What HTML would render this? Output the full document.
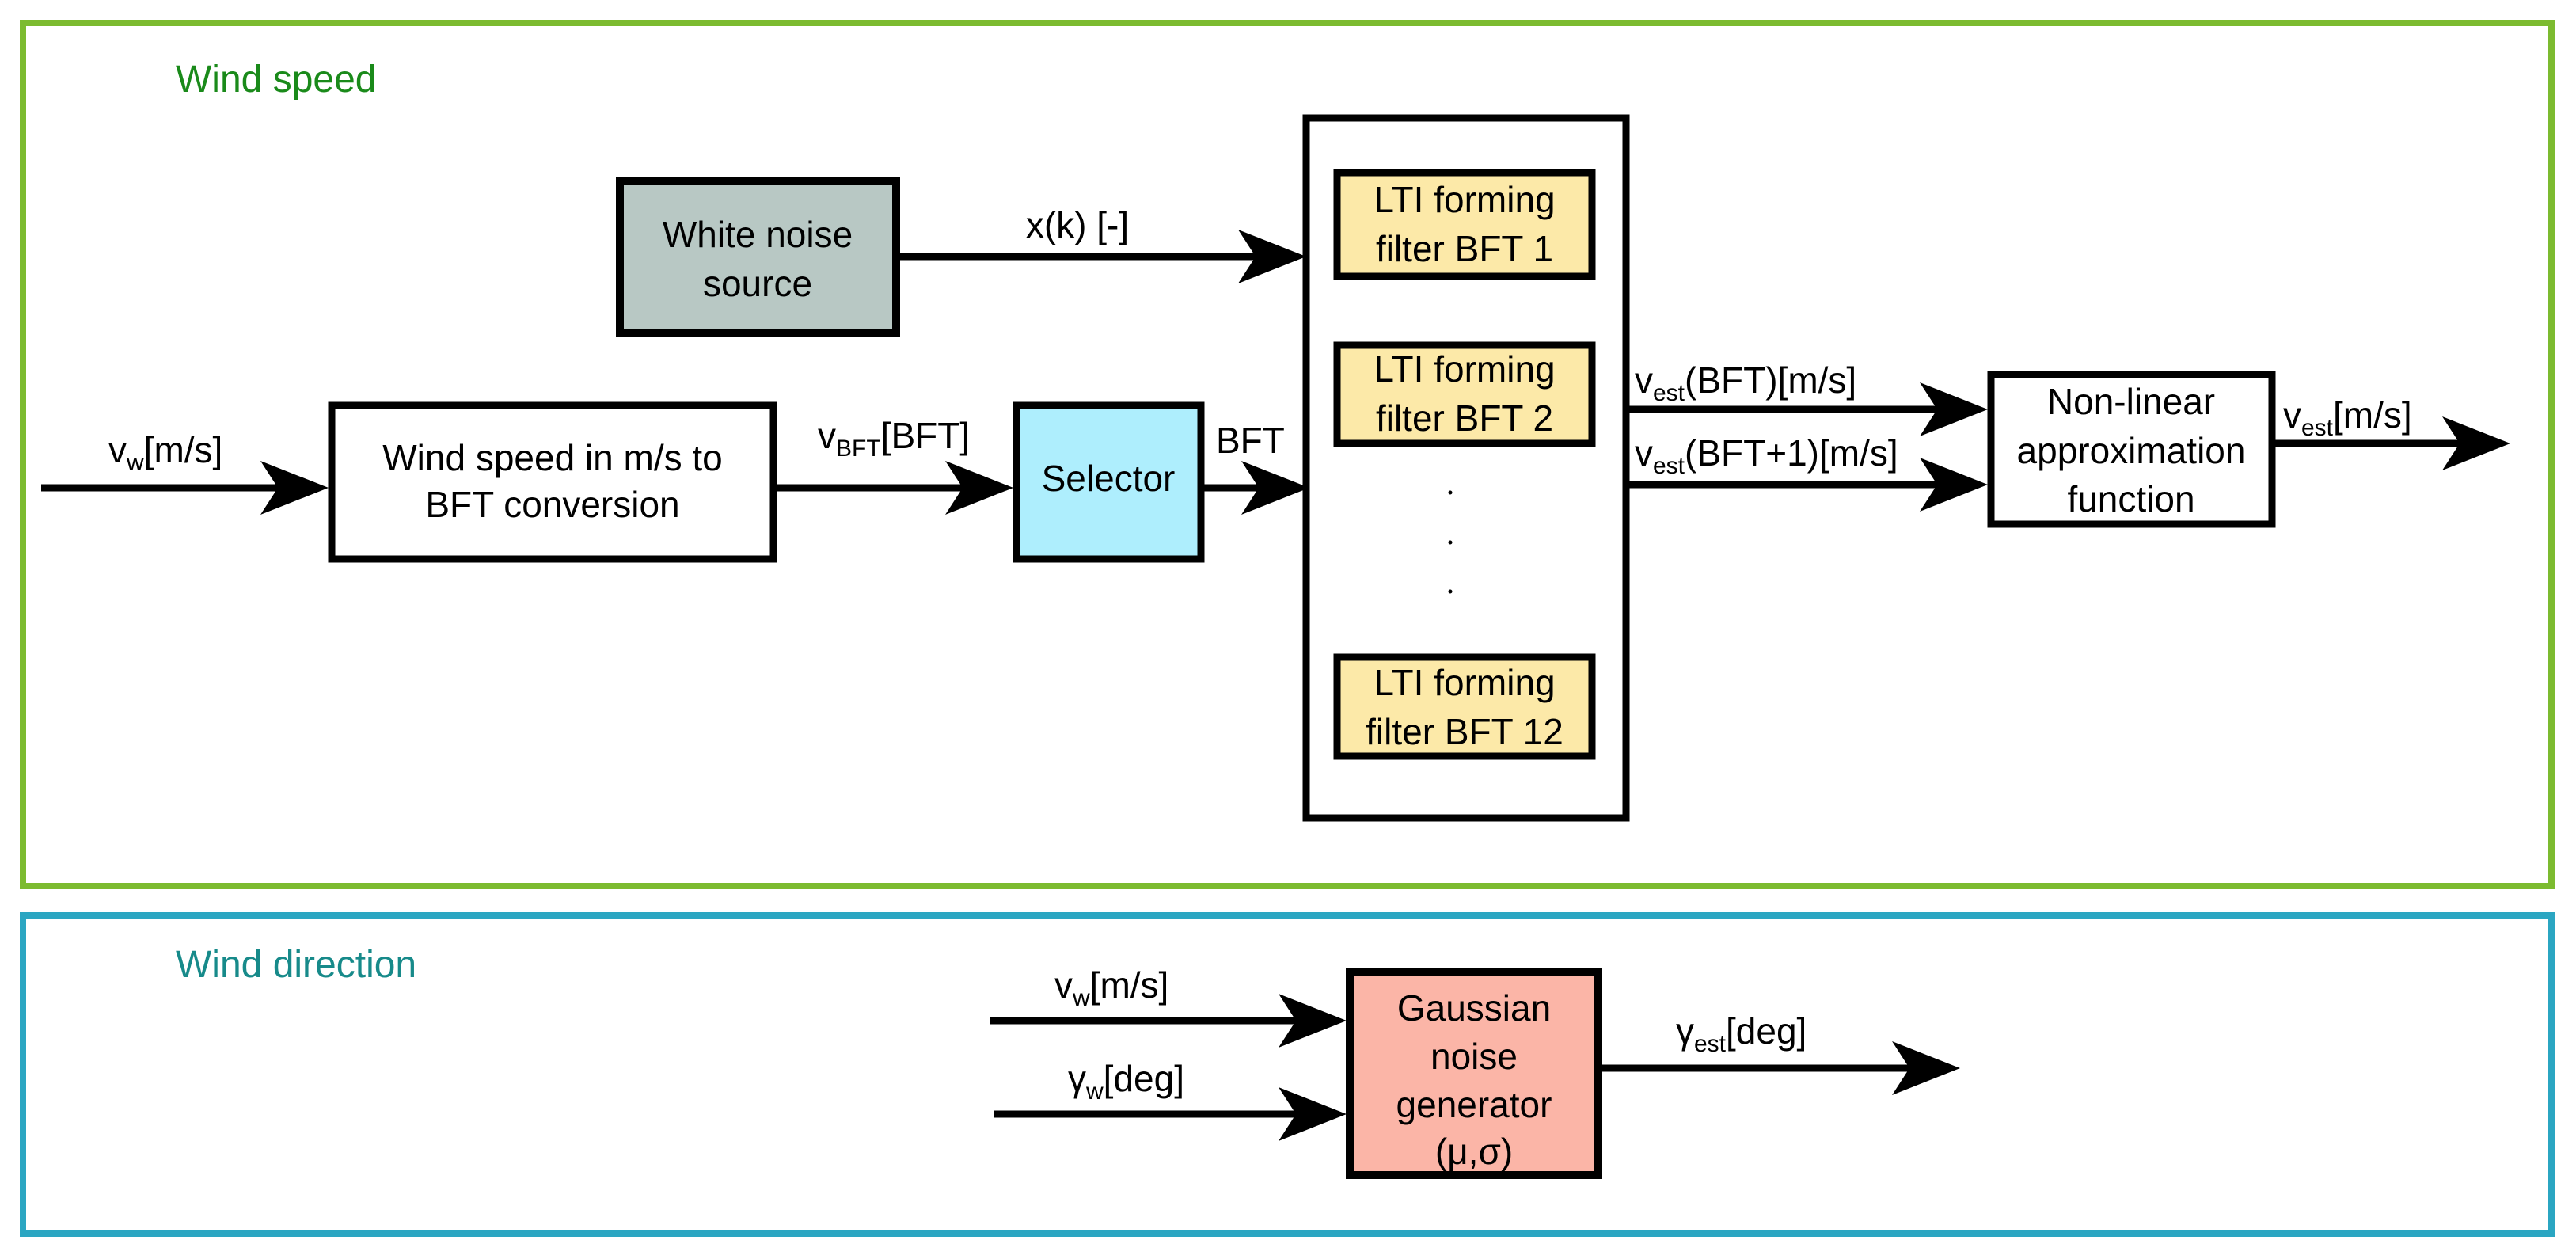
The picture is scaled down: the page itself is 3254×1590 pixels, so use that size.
<!DOCTYPE html>
<html><head><meta charset="utf-8"><style>
html,body{margin:0;padding:0;background:#fff;}
svg{display:block;}
text{font-family:"Liberation Sans",Arial,sans-serif;font-size:46px;fill:#000;}
.c{text-anchor:middle;}
</style></head><body>
<svg width="3254" height="1590" viewBox="0 0 3254 1590" xmlns="http://www.w3.org/2000/svg">
<defs>
<g id="ah"><polygon points="0,0 -86,-34 -64,0 -86,34" fill="#000"/></g>
</defs>
<rect x="29" y="29" width="3194" height="1090" fill="none" stroke="#7cbb30" stroke-width="8"/>
<text x="222" y="116" style="fill:#1a8a1a;font-size:48px">Wind speed</text>
<rect x="29" y="1156" width="3194" height="402" fill="none" stroke="#2ba6c2" stroke-width="8"/>
<text x="222" y="1234" style="fill:#178a8a;font-size:48px">Wind direction</text>

<rect x="783" y="229" width="349" height="191" fill="#b8c8c4" stroke="#000" stroke-width="10"/>
<text class="c" x="957" y="312">White noise</text>
<text class="c" x="957" y="374">source</text>
<line x1="1137" y1="324" x2="1590" y2="324" stroke="#000" stroke-width="9"/>
<use href="#ah" x="1650" y="324"/>
<text class="c" x="1361" y="300">x(k) [-]</text>

<rect x="1650" y="149" width="404" height="884" fill="none" stroke="#000" stroke-width="9"/>
<rect x="1689" y="218" width="322" height="131" fill="#fce9a8" stroke="#000" stroke-width="9"/>
<text class="c" x="1850" y="268">LTI forming</text>
<text class="c" x="1850" y="330">filter BFT 1</text>
<rect x="1689" y="436" width="322" height="124" fill="#fce9a8" stroke="#000" stroke-width="9"/>
<text class="c" x="1850" y="482">LTI forming</text>
<text class="c" x="1850" y="544">filter BFT 2</text>
<rect x="1689" y="830" width="322" height="125" fill="#fce9a8" stroke="#000" stroke-width="9"/>
<text class="c" x="1850" y="878">LTI forming</text>
<text class="c" x="1850" y="940">filter BFT 12</text>
<circle cx="1832" cy="622" r="2.5" fill="#000"/>
<circle cx="1832" cy="685" r="2.5" fill="#000"/>
<circle cx="1832" cy="747" r="2.5" fill="#000"/>

<line x1="52" y1="616" x2="355" y2="616" stroke="#000" stroke-width="9"/>
<use href="#ah" x="415" y="616"/>
<text x="137" y="584">v<tspan style="font-size:30px" dy="10">w</tspan><tspan dy="-10">[m/s]</tspan></text>
<rect x="419" y="512" width="558" height="194" fill="#fff" stroke="#000" stroke-width="9"/>
<text class="c" x="698" y="594">Wind speed in m/s to</text>
<text class="c" x="698" y="653">BFT conversion</text>
<line x1="981" y1="616" x2="1220" y2="616" stroke="#000" stroke-width="9"/>
<use href="#ah" x="1280" y="616"/>
<text x="1033" y="566">v<tspan style="font-size:30px" dy="10">BFT</tspan><tspan dy="-10">[BFT]</tspan></text>
<rect x="1284" y="512" width="233" height="194" fill="#aeeefd" stroke="#000" stroke-width="9"/>
<text class="c" x="1400" y="620">Selector</text>
<line x1="1521" y1="616" x2="1594" y2="616" stroke="#000" stroke-width="9"/>
<use href="#ah" x="1654" y="616"/>
<text x="1536" y="572">BFT</text>

<line x1="2058" y1="517" x2="2451" y2="517" stroke="#000" stroke-width="9"/>
<use href="#ah" x="2511" y="517"/>
<text x="2065" y="496">v<tspan style="font-size:30px" dy="10">est</tspan><tspan dy="-10">(BFT)[m/s]</tspan></text>
<line x1="2058" y1="612" x2="2451" y2="612" stroke="#000" stroke-width="9"/>
<use href="#ah" x="2511" y="612"/>
<text x="2065" y="588">v<tspan style="font-size:30px" dy="10">est</tspan><tspan dy="-10">(BFT+1)[m/s]</tspan></text>
<rect x="2515" y="473" width="355" height="189" fill="#fff" stroke="#000" stroke-width="9"/>
<text class="c" x="2692" y="523">Non-linear</text>
<text class="c" x="2692" y="585">approximation</text>
<text class="c" x="2692" y="646">function</text>
<line x1="2874" y1="560" x2="3111" y2="560" stroke="#000" stroke-width="9"/>
<use href="#ah" x="3171" y="560"/>
<text x="2884" y="540">v<tspan style="font-size:30px" dy="10">est</tspan><tspan dy="-10">[m/s]</tspan></text>

<line x1="1251" y1="1289" x2="1641" y2="1289" stroke="#000" stroke-width="9"/>
<use href="#ah" x="1701" y="1289"/>
<text x="1332" y="1260">v<tspan style="font-size:30px" dy="10">w</tspan><tspan dy="-10">[m/s]</tspan></text>
<line x1="1255" y1="1407" x2="1641" y2="1407" stroke="#000" stroke-width="9"/>
<use href="#ah" x="1701" y="1407"/>
<text x="1349" y="1378">γ<tspan style="font-size:30px" dy="10">w</tspan><tspan dy="-10">[deg]</tspan></text>
<rect x="1705" y="1228" width="314" height="256" fill="#fbb5a7" stroke="#000" stroke-width="10"/>
<text class="c" x="1862" y="1289">Gaussian</text>
<text class="c" x="1862" y="1350">noise</text>
<text class="c" x="1862" y="1411">generator</text>
<text class="c" x="1862" y="1470">(μ,σ)</text>
<line x1="2023" y1="1349" x2="2416" y2="1349" stroke="#000" stroke-width="9"/>
<use href="#ah" x="2476" y="1349"/>
<text x="2117" y="1318">γ<tspan style="font-size:30px" dy="10">est</tspan><tspan dy="-10">[deg]</tspan></text>
</svg>
</body></html>
